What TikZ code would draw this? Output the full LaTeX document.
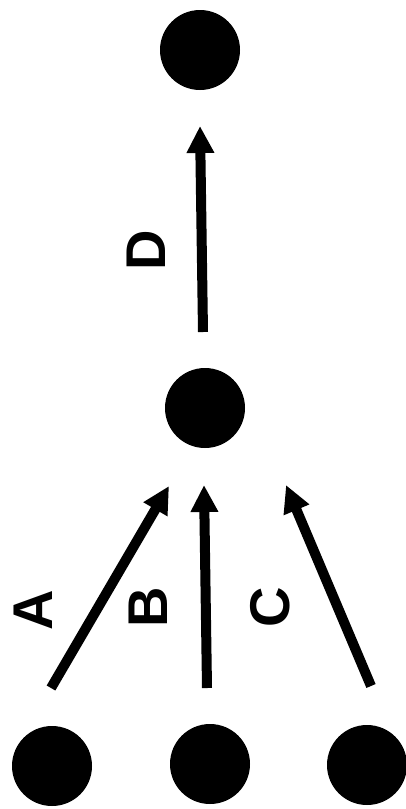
\documentclass[tikz,border=0pt]{standalone}
\usepackage{fontspec}
\setmainfont{Liberation Sans}
\usetikzlibrary{arrows.meta}
\begin{document}
\begin{tikzpicture}[x=1pt,y=-1pt,
  dot/.style={circle,fill=black,inner sep=0pt,minimum size=80pt},
  arr/.style={line width=10pt,-{Triangle[length=27pt,width=26pt]}},
  lbl/.style={rotate=90,font=\fontsize{56}{56}\selectfont\bfseries,inner sep=0pt}]
\useasboundingbox (0,0) rectangle (406,809);
\node[dot] (top) at (200,50) {};
\node[dot] (mid) at (205,408) {};
\node[dot] (l) at (52,766) {};
\node[dot] (m) at (210,764) {};
\node[dot] (r) at (367,765) {};
\coordinate (ds) at (203,332);
\coordinate (de) at (200,126);
\coordinate (as) at (51,688);
\coordinate (ae) at (169,486);
\coordinate (bs) at (207,688);
\coordinate (be) at (204,485);
\coordinate (cs) at (371,686);
\coordinate (ce) at (286,485);
\draw[arr] (ds) -- (de);
\draw[arr] (as) -- (ae);
\draw[arr] (bs) -- (be);
\draw[arr] (cs) -- (ce);
\node[lbl] (dl) at (146,250) {D};
\node[lbl] (al) at (33,610) {A};
\node[lbl] (bl) at (148,607) {B};
\node[lbl] (cl) at (270,607) {C};
\end{tikzpicture}
\end{document}
